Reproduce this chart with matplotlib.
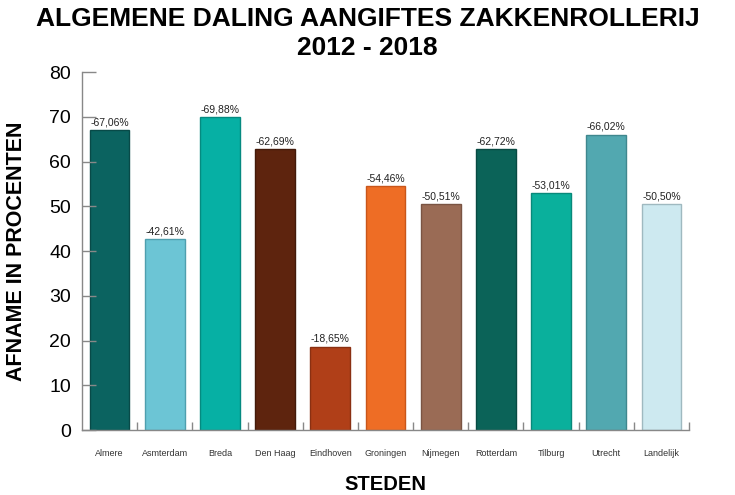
import matplotlib.pyplot as plt
import numpy as np

steden = ["Almere", "Asmterdam", "Breda", "Den Haag", "Eindhoven", "Groningen",
          "Nijmegen", "Rotterdam", "Tilburg", "Utrecht", "Landelijk"]
afname = [67.06, 42.61, 69.88, 62.69, 18.65, 54.46, 50.51, 62.72, 53.01, 66.02, 50.50]
labels = ["-67,06%", "-42,61%", "-69,88%", "-62,69%", "-18,65%", "-54,46%",
          "-50,51%", "-62,72%", "-53,01%", "-66,02%", "-50,50%"]
kleuren = ["#0b6360", "#6cc5d5", "#06b0a4", "#5e240e", "#b03f18", "#ee6d25",
           "#9a6b55", "#0b6358", "#0ab09c", "#52a8b0", "#cde9f0"]
randen = ["#084a48", "#4f9fae", "#058a80", "#431a0a", "#8a3012", "#c9561a",
          "#7a5443", "#084a43", "#08897a", "#3f878e", "#9fb9c0"]

plt.rcParams['font.family'] = ['Liberation Sans', 'DejaVu Sans']

fig = plt.figure(figsize=(7.35, 4.95), dpi=100)
ax = fig.add_axes([0.1116, 0.1313, 0.8258, 0.7232])

x = np.arange(len(steden))
ax.bar(x, afname, width=0.72, color=kleuren, edgecolor=randen, linewidth=1)

for xi, v, t in zip(x, afname, labels):
    ax.text(xi, v + 0.6, t, ha='center', va='bottom', fontsize=7.5, color='#222222')

ax.set_xlim(-0.5, len(steden) - 0.5)
ax.set_ylim(0, 80)
ax.set_yticks(range(0, 81, 10))
ax.tick_params(axis='y', direction='in', length=10, width=1, color='#888888',
               labelsize=14, pad=8)
ax.set_xticks(x)
ax.set_xticklabels(steden, fontsize=6.5, color='#333333')
ax.tick_params(axis='x', length=0, pad=14)
ax.set_xticks(np.arange(len(steden)) + 0.5, minor=True)
ax.tick_params(axis='x', which='minor', direction='in', length=6, width=1, color='#888888')

for s in ['top', 'right']:
    ax.spines[s].set_visible(False)
for s in ['left', 'bottom']:
    ax.spines[s].set_color('#888888')
    ax.spines[s].set_linewidth(1)

ax.set_ylabel("AFNAME IN PROCENTEN", fontsize=15.5, fontweight='heavy', labelpad=16)
ax.set_xlabel("STEDEN", fontsize=14.5, fontweight='heavy', labelpad=12)

fig.suptitle("ALGEMENE DALING AANGIFTES ZAKKENROLLERIJ\n2012 - 2018",
             fontsize=19, fontweight='heavy', y=0.985, linespacing=1.25)

fig.savefig("out.png", dpi=100)
